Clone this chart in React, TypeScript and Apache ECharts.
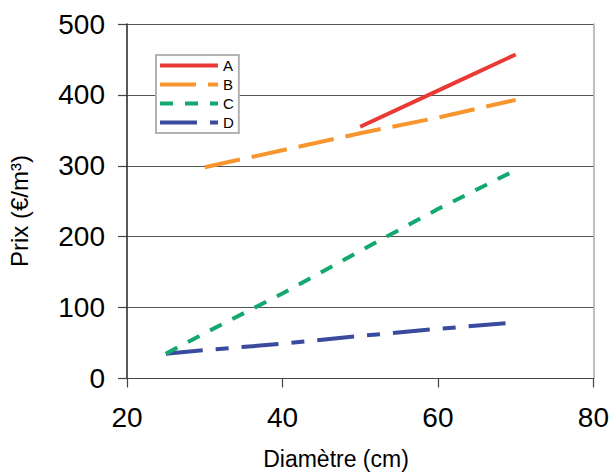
import React, { useEffect, useRef } from "react";
import * as echarts from "echarts";

// Diamètre (cm) → Prix (€/m³) for four price series
const seriesNames = ["A", "B", "C", "D"];
const diamA = [50, 60, 70];
const prixA = [355, 406, 457];
const diamB = [30, 40, 50, 60, 70];
const prixB = [298, 322, 346, 368, 393];
const diamC = [25, 30, 40, 50, 60, 70];
const prixC = [35, 64, 120, 180, 239, 294];
const diamD = [25, 30, 40, 50, 60, 70];
const prixD = [35, 40, 49, 60, 70, 79];

const xTicks = [20, 40, 60, 80];
const yTicks = [0, 100, 200, 300, 400, 500];

const colors = ["#EA3A36", "#F7962F", "#12A86E", "#3A4A9E"];
const dashes: (string | number[])[] = ["solid", [36, 12], [13, 12], [37, 13, 13, 13]];

const FONT = "'Liberation Sans', Arial, Helvetica, sans-serif";

const pairs = (xs: number[], ys: number[]) => xs.map((x, i) => [x, ys[i]]);

export default function App() {
  const ref = useRef<HTMLDivElement>(null);

  useEffect(() => {
    if (!ref.current) return;
    const chart = echarts.init(ref.current, undefined, { renderer: "svg" });
    const data = [pairs(diamA, prixA), pairs(diamB, prixB), pairs(diamC, prixC), pairs(diamD, prixD)];

    chart.setOption({
      animation: false,
      backgroundColor: "#ffffff",
      textStyle: { fontFamily: FONT },
      grid: { left: 127, right: 17, top: 24, bottom: 93.5, containLabel: false },
      xAxis: {
        type: "value",
        min: xTicks[0],
        max: xTicks[xTicks.length - 1],
        interval: xTicks[1] - xTicks[0],
        axisLine: { show: true, lineStyle: { color: "#444", width: 1.2 } },
        axisTick: { show: true, length: 9, lineStyle: { color: "#444", width: 1.2 } },
        axisLabel: { color: "#000", fontSize: 28, margin: 25, fontFamily: FONT },
        splitLine: { show: false },
      },
      yAxis: [
        {
          type: "value",
          min: yTicks[0],
          max: yTicks[yTicks.length - 1],
          interval: yTicks[1] - yTicks[0],
          axisLine: { show: true, lineStyle: { color: "#222", width: 1.5 } },
          axisTick: { show: true, length: 9, lineStyle: { color: "#444", width: 1.2 } },
          axisLabel: { color: "#000", fontSize: 28, margin: 22, fontFamily: FONT },
          splitLine: { show: true, lineStyle: { color: "#555", width: 1.2 } },
        },
        {
          type: "value",
          position: "right",
          min: yTicks[0],
          max: yTicks[yTicks.length - 1],
          interval: yTicks[1] - yTicks[0],
          axisLine: { show: true, lineStyle: { color: "#aaaaaa", width: 1.5 } },
          axisTick: { show: false },
          axisLabel: { show: false },
          splitLine: { show: false },
        },
      ],
      legend: {
        orient: "vertical",
        left: 156,
        top: 55,
        itemWidth: 58,
        itemHeight: 14,
        itemGap: 4,
        padding: [3, 5, 3, 2],
        borderColor: "#b3b3b3",
        borderWidth: 2,
        backgroundColor: "#ffffff",
        data: seriesNames,
        itemStyle: { opacity: 0 },
        lineStyle: { width: 4 },
        textStyle: { color: "#000", fontSize: 15, fontFamily: FONT },
      },
      series: seriesNames.map((name, i) => ({
        name,
        type: "line",
        data: data[i],
        symbol: "none",
        color: colors[i],
        lineStyle: { color: colors[i], width: 4, type: dashes[i], cap: "butt" },
        z: 3 + (seriesNames.length - i),
      })),
      graphic: [
        {
          type: "text",
          x: 336,
          y: 459,
          style: {
            text: "Diamètre (cm)",
            fontSize: 23,
            fontFamily: FONT,
            fill: "#000",
            align: "center",
            verticalAlign: "middle",
          },
        },
        {
          type: "text",
          x: 19,
          y: 211,
          rotation: Math.PI / 2,
          style: {
            text: "Prix (€/m³)",
            fontSize: 24,
            fontFamily: FONT,
            fill: "#000",
            align: "center",
            verticalAlign: "middle",
          },
        },
      ],
    });

    return () => chart.dispose();
  }, []);

  return (
    <div
      ref={ref}
      style={{ position: "fixed", left: 0, top: 0, width: 612, height: 472 }}
    />
  );
}
